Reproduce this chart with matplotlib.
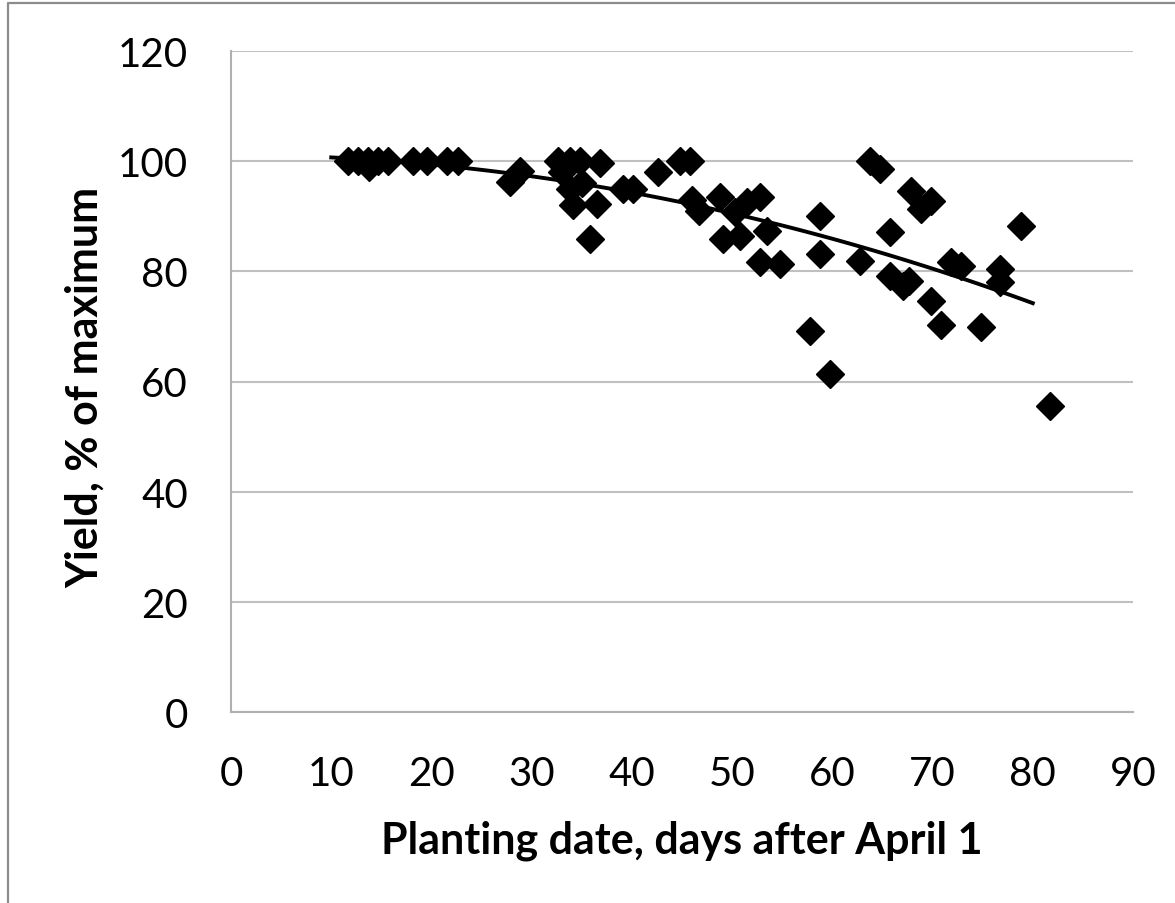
import numpy as np
import matplotlib.pyplot as plt
from matplotlib.lines import Line2D

# planting date (days after April 1) and yield (% of maximum)
days = [11.7, 12.7, 13.7, 13.8, 14.7, 15.7, 18.2, 19.6, 21.6, 22.6,
        27.8, 28.8, 32.6, 33.8, 34.8, 36.8, 33.0, 33.8, 34.1, 35.0, 36.5, 35.8, 39.1, 40.1,
        42.6, 44.8, 45.8, 46.0, 46.7, 48.8, 49.1, 50.3, 50.8, 51.5, 52.8, 52.8, 53.5, 54.8,
        57.8, 58.8, 58.8, 59.8, 62.8, 63.8, 64.8, 65.8, 65.8, 67.1, 67.6, 67.8, 68.8, 69.8,
        69.8, 70.8, 71.8, 72.8, 74.8, 76.7, 76.7, 78.8, 81.7]
yield_pct = [100, 100, 100, 99, 100, 100, 100, 100, 100, 100,
             96.2, 98.2, 100, 100, 100, 99.7, 98, 95, 92, 96, 92.2, 85.9, 95, 95,
             98, 100, 100, 93, 91, 93.5, 85.9, 90.8, 86.4, 92.6, 93.5, 81.7, 87.3, 81.3,
             69.2, 90.1, 83.2, 61.4, 81.9, 100, 98.6, 87.1, 79.2, 77.3, 78.2, 94.6, 91.3, 92.8,
             74.6, 70.3, 81.7, 81, 69.9, 80.4, 78.1, 88.2, 55.6]
trend_range = [10, 80]

xticks = list(range(0, 91, 10))
yticks = list(range(0, 121, 20))

plt.rcParams['font.family'] = ['Lato', 'DejaVu Sans']

fig = plt.figure(figsize=(11.75, 9.04), dpi=100)
ax = fig.add_axes([231 / 1175, 1 - 713 / 904, 902 / 1175, 661 / 904])

ax.plot(days, yield_pct, linestyle='none', marker='D', ms=14, color='black', zorder=3)

# 2nd order polynomial trend line, like the Excel one
coef = np.polyfit(days, yield_pct, 2)
tx = np.linspace(trend_range[0], trend_range[1], 100)
ax.plot(tx, np.polyval(coef, tx), color='black', lw=2.8, zorder=4)

ax.set_xlim(0, 90)
ax.set_ylim(0, 120)
ax.set_xticks(xticks)
ax.set_yticks(yticks)
ax.tick_params(length=0, labelsize=29, pad=31)
ax.grid(axis='y', color='#c0c0c0', lw=1.5)
ax.set_axisbelow(True)
for s in ['top', 'right']:
    ax.spines[s].set_visible(False)
for s in ['left', 'bottom']:
    ax.spines[s].set_color('#b0b0b0')
    ax.spines[s].set_linewidth(1.5)

ax.set_xlabel('Planting date, days after April 1', fontsize=31, fontweight='bold')
ax.set_ylabel('Yield, % of maximum', fontsize=31, fontweight='bold')
ax.xaxis.set_label_coords(0.5, -0.162)
ax.yaxis.set_label_coords(-0.14, 0.493)

# outer chart frame
fig.add_artist(Line2D([8 / 1175, 8 / 1175, 1.0], [0.0, 1 - 4 / 904, 1 - 4 / 904],
                      transform=fig.transFigure, color='#8c8c8c', lw=1.6))

fig.savefig('out.png', dpi=100)
